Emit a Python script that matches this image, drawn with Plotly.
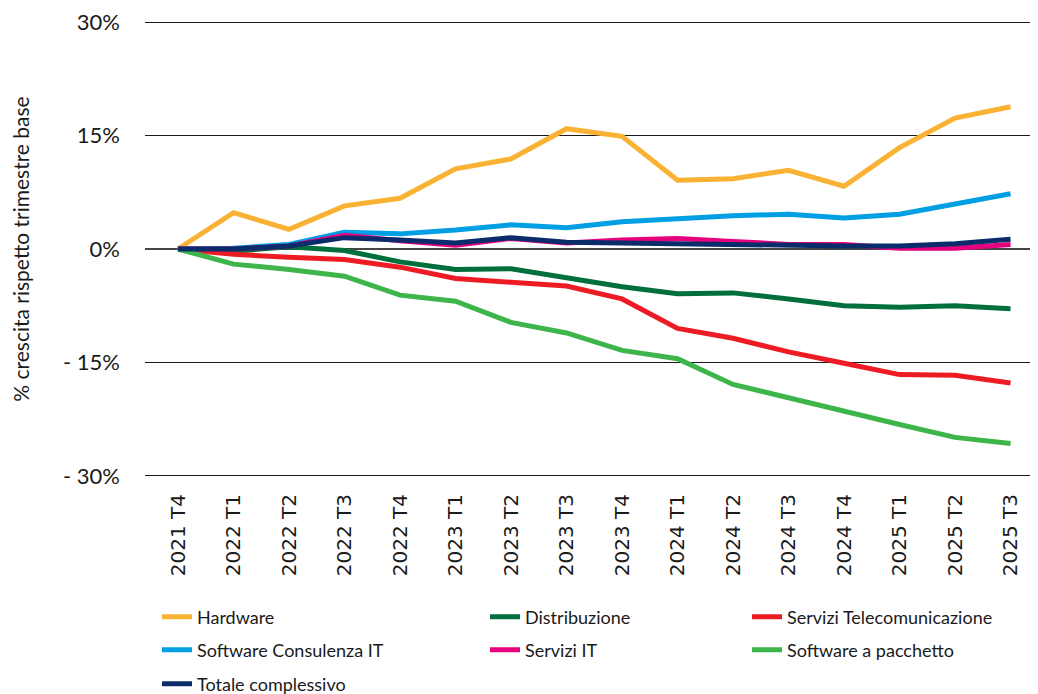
import plotly.graph_objects as go

quarters = ["2021 T4", "2022 T1", "2022 T2", "2022 T3", "2022 T4", "2023 T1", "2023 T2", "2023 T3",
            "2023 T4", "2024 T1", "2024 T2", "2024 T3", "2024 T4", "2025 T1", "2025 T2", "2025 T3"]

hardware = [0, 4.8, 2.6, 5.7, 6.7, 10.6, 11.9, 15.9, 14.9, 9.1, 9.3, 10.4, 8.3, 13.4, 17.3, 18.8]
software_consulenza = [0, 0.1, 0.6, 2.2, 2.0, 2.5, 3.2, 2.8, 3.6, 4.0, 4.4, 4.6, 4.1, 4.6, 6.0, 7.3]
totale = [0, 0.0, 0.4, 1.5, 1.2, 0.8, 1.5, 0.9, 0.8, 0.7, 0.5, 0.5, 0.4, 0.4, 0.7, 1.3]
servizi_it = [0, 0.0, 0.4, 1.8, 1.1, 0.5, 1.4, 0.8, 1.2, 1.4, 1.0, 0.6, 0.6, 0.1, 0.1, 0.6]
distribuzione = [0, -0.3, 0.3, -0.2, -1.7, -2.7, -2.6, -3.8, -5.0, -5.9, -5.8, -6.6, -7.5, -7.7, -7.5, -7.9]
telecom = [0, -0.7, -1.1, -1.4, -2.4, -3.9, -4.4, -4.9, -6.6, -10.5, -11.8, -13.6, -15.1, -16.6, -16.7, -17.7]
pacchetto = [0, -2.0, -2.7, -3.6, -6.1, -6.9, -9.7, -11.1, -13.4, -14.5, -17.9, -19.7, -21.5, -23.2, -24.9, -25.7]

y_tickvals = [30, 15, 0, -15, -30]
y_ticktext = ["30%", "15%", "0%", "- 15%", "- 30%"]

series = [
    ("Hardware", hardware, "#F9B233", "legend"),
    ("Distribuzione", distribuzione, "#006F3C", "legend2"),
    ("Servizi Telecomunicazione", telecom, "#ED1C24", "legend3"),
    ("Software Consulenza IT", software_consulenza, "#009FE3", "legend4"),
    ("Servizi IT", servizi_it, "#E6007E", "legend5"),
    ("Software a pacchetto", pacchetto, "#3DB54A", "legend6"),
    ("Totale complessivo", totale, "#0B2C6B", "legend7"),
]

fig = go.Figure()
xs = list(range(len(quarters)))
for name, vals, color, lg in series:
    fig.add_trace(go.Scatter(x=xs, y=vals, mode="lines", name=name,
                             line=dict(color=color, width=5), legend=lg))

OFF = 8  # default page body margin
W, H = 1038 - OFF, 694 - OFF
Y0, Y1 = -30.4, 30.4
ppu = (476 - 22) / 60.0
L, R = 145 - OFF, 0
T = 22 - OFF - 0.4 * ppu
B = H - (476 - OFF + 0.4 * ppu)
pw = W - L - R
ph = H - T - B

def px_x(px):
    return (px - OFF - L) / pw

def px_y(py):
    return (H - B - (py - OFF)) / ph

legend_font = dict(family="Lato", size=18, color="#1a1a1a")
col_x = [px_x(157), px_x(485), px_x(747)]
row_y = [px_y(617), px_y(650), px_y(684)]
positions = {
    "legend": (col_x[0], row_y[0]),
    "legend2": (col_x[1], row_y[0]),
    "legend3": (col_x[2], row_y[0]),
    "legend4": (col_x[0], row_y[1]),
    "legend5": (col_x[1], row_y[1]),
    "legend6": (col_x[2], row_y[1]),
    "legend7": (col_x[0], row_y[2]),
}
legend_layouts = {}
for k, (lx, ly) in positions.items():
    legend_layouts[k] = dict(x=lx, y=ly, xanchor="left", yanchor="middle",
                             font=legend_font, bgcolor="rgba(0,0,0,0)",
                             itemwidth=30)

fig.update_layout(
    width=W, height=H,
    margin=dict(l=L, r=R, t=T, b=B, autoexpand=False),
    paper_bgcolor="white", plot_bgcolor="white",
    showlegend=True,
    **legend_layouts,
)

fig.update_xaxes(
    tickmode="array", tickvals=xs, ticktext=quarters,
    range=[-0.595, 15.495], tickangle=-90,
    showgrid=False, zeroline=False, showline=False,
    tickfont=dict(family="DejaVu Sans", size=20, color="#1a1a1a"),
    ticks="", ticklabelstandoff=10, ticklabeloverflow="allow",
    automargin=False,
)
fig.update_yaxes(
    range=[Y0, Y1], tickmode="array", tickvals=y_tickvals, ticktext=y_ticktext,
    showgrid=True, gridcolor="#1a1a1a", gridwidth=1,
    zeroline=True, zerolinecolor="#444444", zerolinewidth=2,
    showline=False, ticks="",
    tickfont=dict(family="Lato", size=22, color="#1a1a1a"),
    ticklabelstandoff=24, ticklabeloverflow="allow",
    title=dict(text="% crescita rispetto trimestre base",
               font=dict(family="Lato", size=21, color="#1a1a1a"), standoff=30),
    automargin=False,
)

fig.write_html("out.html")
